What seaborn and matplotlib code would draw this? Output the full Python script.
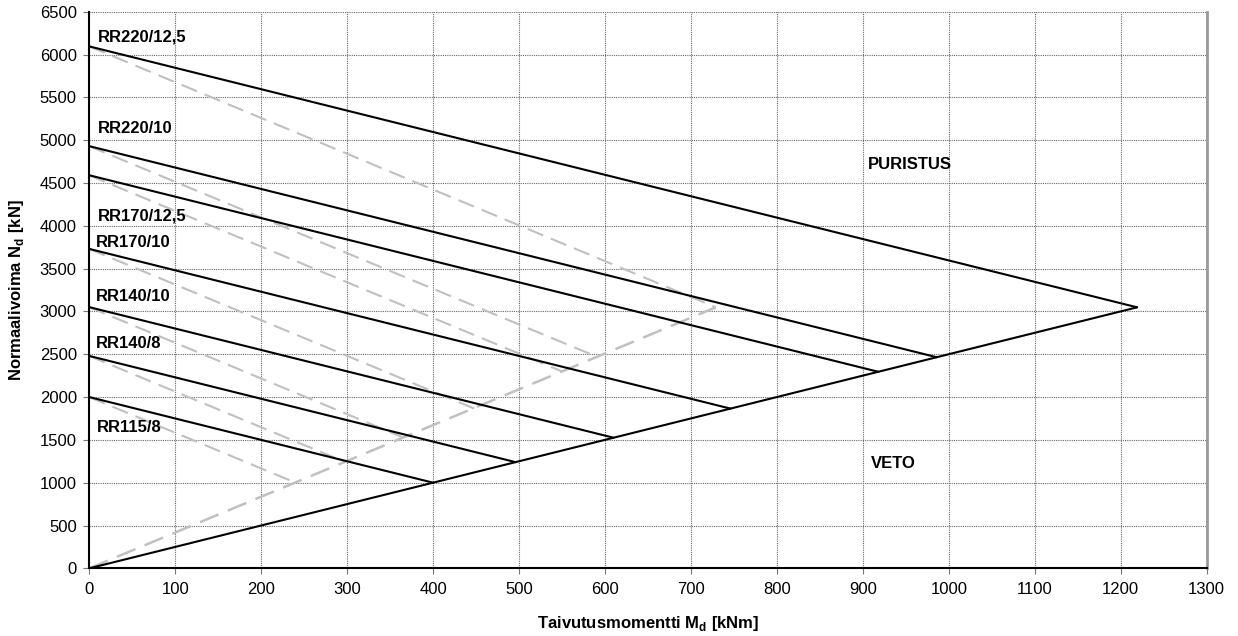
import matplotlib
matplotlib.use("Agg")
import matplotlib.pyplot as plt
import seaborn as sns

# ---- data ----
labels = ["RR115/8", "RR140/8", "RR140/10", "RR170/10", "RR170/12,5", "RR220/10", "RR220/12,5"]
n_start = [2000, 2480, 3050, 3730, 4590, 4930, 6095]      # N at M = 0 [kN]
m_end = [400, 496, 610, 746, 918, 986, 1219]               # solid line end M [kNm]
n_end = [1000, 1240, 1525, 1865, 2295, 2465, 3048]         # line end N [kN]
m_end_dashed = [240, 298, 366, 448, 551, 592, 729]         # dashed line end M [kNm]

label_x = [9, 8, 8, 8, 10, 10, 10]
label_y = [1640, 2620, 3175, 3810, 4115, 5140, 6200]

region_text = ["PURISTUS", "VETO"]
region_x = [906, 909]
region_y = [4720, 1226]

xticks = list(range(0, 1301, 100))
yticks = list(range(0, 6501, 500))

# ---- styling ----
sns.set_theme(style="white")
plt.rcParams["font.family"] = ["Liberation Sans", "DejaVu Sans"]
plt.rcParams["mathtext.fontset"] = "custom"
plt.rcParams["mathtext.rm"] = "Liberation Sans"
plt.rcParams["mathtext.bf"] = "Liberation Sans:bold"
plt.rcParams["text.color"] = "black"
plt.rcParams["axes.labelcolor"] = "black"
plt.rcParams["xtick.color"] = "black"
plt.rcParams["ytick.color"] = "black"

FS = 12

fig = plt.figure(figsize=(12.38, 6.36), dpi=100)
ax = fig.add_axes([0.0721, 0.1064, 0.9747 - 0.0721, 0.9816 - 0.1064])

# grid
ax.set_axisbelow(True)
ax.grid(True, which="major", linestyle=(0, (1, 1)), color="#666666", linewidth=0.8)

# dashed grey lines (envelope from origin + each section)
for n0, ne, md in zip(n_start, n_end, m_end_dashed):
    sns.lineplot(x=[0, md], y=[n0, ne], color="#c0c0c0", linewidth=1.5,
                 linestyle=(0, (8, 4)), ax=ax, legend=False, sort=False)
sns.lineplot(x=[0, m_end_dashed[-1]], y=[0, n_end[-1]], color="#c0c0c0", linewidth=1.8,
             linestyle=(0, (8, 4)), ax=ax, legend=False, sort=False)

# solid black lines
for n0, me, ne in zip(n_start, m_end, n_end):
    sns.lineplot(x=[0, me], y=[n0, ne], color="black", linewidth=1.5, ax=ax,
                 legend=False, sort=False)
sns.lineplot(x=[0, m_end[-1]], y=[0, n_end[-1]], color="black", linewidth=1.5, ax=ax,
             legend=False, sort=False)

# labels
for lab, lx, ly in zip(labels, label_x, label_y):
    ax.text(lx, ly, lab, fontsize=FS, fontweight="bold", ha="left", va="center")
for t, tx, ty in zip(region_text, region_x, region_y):
    ax.text(tx, ty, t, fontsize=FS, fontweight="bold", ha="left", va="center")

ax.set_xlim(0, 1300)
ax.set_ylim(0, 6500)
ax.set_xticks(xticks)
ax.set_yticks(yticks)
ax.tick_params(axis="both", labelsize=FS, length=4, width=0.8, color="#777777",
               labelcolor="black", direction="out", bottom=True, left=True)
ax.tick_params(axis="x", pad=6)
ax.tick_params(axis="y", pad=5)

ax.set_xlabel(r"Taivutusmomentti M$_\mathbf{d}$ [kNm]", fontsize=FS,
              fontweight="bold", labelpad=12)
ax.set_ylabel(r"Normaalivoima N$_\mathbf{d}$ [kN]", fontsize=FS,
              fontweight="bold", labelpad=10)

for side in ["left", "bottom"]:
    ax.spines[side].set_color("black")
    ax.spines[side].set_linewidth(1.5)
ax.spines["right"].set_color("#999999")
ax.spines["right"].set_linewidth(2)
ax.spines["top"].set_visible(False)

fig.savefig("out.png", dpi=100)
